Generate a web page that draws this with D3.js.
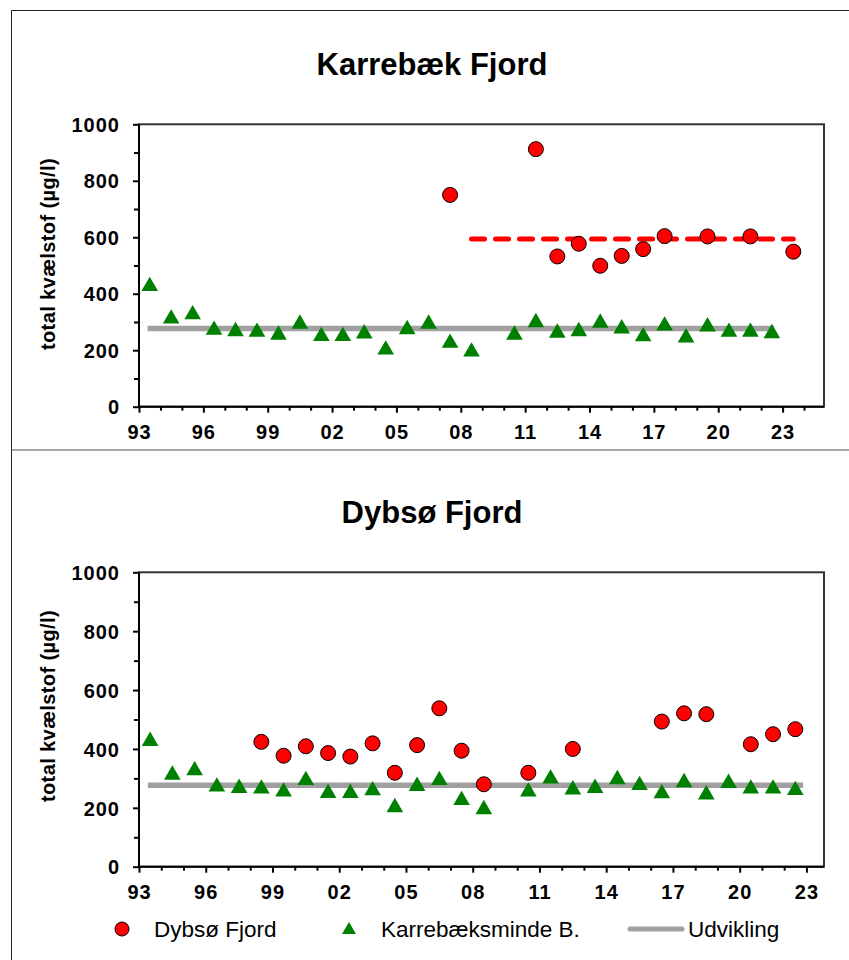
<!DOCTYPE html>
<html>
<head>
<meta charset="utf-8">
<script src="https://cdn.jsdelivr.net/npm/d3@7"></script>
<style>
  body { margin: 0; background: #fff; }
  svg { font-family: "Liberation Sans", Arial, sans-serif; }
</style>
</head>
<body>
<svg width="849" height="960"></svg>
<script>
// Karrebæksminde Bugt (green triangles), same series in both panels
var kbYears = [1993, 1994, 1995, 1996, 1997, 1998, 1999, 2000, 2001, 2002, 2003, 2004, 2005, 2006, 2007, 2008,
               2010, 2011, 2012, 2013, 2014, 2015, 2016, 2017, 2018, 2019, 2020, 2021, 2022];
var kbValues = [430, 315, 330, 275, 270, 268, 258, 297, 253, 253, 262, 205, 277, 297, 229, 198,
                258, 302, 265, 270, 300, 280, 252, 290, 248, 287, 268, 268, 263];

// Karrebæk Fjord (red circles, top panel)
var karYears = [2007, 2011, 2012, 2013, 2014, 2015, 2016, 2017, 2019, 2021, 2023];
var karValues = [750, 912, 532, 577, 499, 534, 558, 604, 603, 603, 549];

// Dybsø Fjord (red circles, bottom panel)
var dybYears = [1998, 1999, 2000, 2001, 2002, 2003, 2004, 2005, 2006, 2007, 2008, 2010, 2012, 2016, 2017, 2018, 2020, 2021, 2022];
var dybValues = [424, 377, 409, 386, 374, 419, 319, 413, 538, 394, 280, 319, 400, 493, 521, 518, 416, 450, 467];

// trend lines ("Udvikling")
var kbTrend = 277;
var kbTrendYears = [[1993.4, 2022.6], [1993.4, 2022.85]];
var karTrend = 594;
var karTrendYears = [2008.5, 2023.5];

var titles = ["Karrebæk Fjord", "Dybsø Fjord"];
var yLabel = "total kvælstof (µg/l)";
var legendLabels = ["Dybsø Fjord", "Karrebæksminde B.", "Udvikling"];

var svg = d3.select("svg");

// frame lines
svg.append("line").attr("x1", 11.5).attr("x2", 849).attr("y1", 10.5).attr("y2", 10.5)
    .attr("stroke", "#222").attr("stroke-width", 1);
svg.append("line").attr("x1", 11.5).attr("x2", 11.5).attr("y1", 10.5).attr("y2", 960)
    .attr("stroke", "#222").attr("stroke-width", 1);
svg.append("line").attr("x1", 11.5).attr("x2", 849).attr("y1", 450).attr("y2", 450)
    .attr("stroke", "#888").attr("stroke-width", 1.5);

var tri = d3.symbol().type(d3.symbolTriangle).size(120);

function toPts(years, values) {
    return years.map(function(y, i) { return { year: y, value: values[i] }; });
}

function panel(opts) {
    var x = d3.scaleLinear().domain([1993, opts.xEnd]).range([139, 824]);
    var y = d3.scaleLinear().domain([0, 1000]).range([opts.bottom, opts.top]);
    var g = svg.append("g");

    // title
    g.append("text")
        .attr("x", 432).attr("y", opts.top - 49)
        .attr("text-anchor", "middle")
        .attr("font-size", 31).attr("font-weight", "bold")
        .text(opts.title);

    // plot border (top/right)
    g.append("rect")
        .attr("x", 139).attr("y", opts.top)
        .attr("width", 824 - 139).attr("height", opts.bottom - opts.top)
        .attr("fill", "none").attr("stroke", "#333").attr("stroke-width", 2);

    // y axis: minor + major
    var yMinor = d3.axisLeft(y).tickValues(d3.range(100, 1000, 200)).tickSize(5).tickFormat("");
    var yMajor = d3.axisLeft(y).tickValues(d3.range(0, 1001, 200)).tickSize(6).tickPadding(13)
        .tickFormat(d3.format("d"));
    var gy1 = g.append("g").attr("transform", "translate(139,0)").call(yMinor);
    var gy2 = g.append("g").attr("transform", "translate(139,0)").call(yMajor);

    // x axis
    var yrs = d3.range(1993, Math.floor(opts.xEnd) + 1);
    var xMinor = d3.axisBottom(x).tickValues(yrs.filter(function(d) { return (d - 1993) % 3 != 0; }))
        .tickSize(4).tickFormat("");
    var xMajor = d3.axisBottom(x).tickValues(yrs.filter(function(d) { return (d - 1993) % 3 == 0; }))
        .tickSize(6).tickPadding(12)
        .tickFormat(function(d) { return d3.format("02d")(d % 100); });
    var gx1 = g.append("g").attr("transform", "translate(0," + opts.bottom + ")").call(xMinor);
    var gx2 = g.append("g").attr("transform", "translate(0," + opts.bottom + ")").call(xMajor);

    [gy1, gy2, gx1, gx2].forEach(function(a) {
        a.select(".domain").remove();
        a.selectAll(".tick line").attr("stroke", "#000").attr("stroke-width", 2);
        a.selectAll(".tick text").attr("font-size", 20).attr("font-weight", "bold")
            .attr("fill", "#000").attr("font-family", "Liberation Sans, Arial, sans-serif")
            .attr("letter-spacing", 1);
    });
    gx2.selectAll(".tick text").attr("dy", "0.71em");
    gy2.selectAll(".tick text").attr("dy", "0.36em");

    // axis lines
    g.append("line").attr("x1", 139).attr("x2", 139).attr("y1", opts.top).attr("y2", opts.bottom + 1)
        .attr("stroke", "#000").attr("stroke-width", 2);
    g.append("line").attr("x1", 138).attr("x2", 824).attr("y1", opts.bottom).attr("y2", opts.bottom)
        .attr("stroke", "#000").attr("stroke-width", 2);

    // y label
    g.append("text")
        .attr("transform", "translate(55," + opts.labelY + ") rotate(-90)")
        .attr("text-anchor", "middle")
        .attr("font-size", 20).attr("font-weight", "bold")
        .attr("letter-spacing", 0.4)
        .text(yLabel);

    // gray trend
    g.append("line")
        .attr("x1", x(opts.grayYears[0])).attr("x2", x(opts.grayYears[1]))
        .attr("y1", y(kbTrend)).attr("y2", y(kbTrend))
        .attr("stroke", "#a0a0a0").attr("stroke-width", 5.5);

    // red dashed trend
    if (opts.redTrend) {
        g.append("line")
            .attr("x1", x(opts.redTrend[0])).attr("x2", x(opts.redTrend[1]))
            .attr("y1", y(opts.redTrend[2])).attr("y2", y(opts.redTrend[2]))
            .attr("stroke", "#ff0000").attr("stroke-width", 5)
            .attr("stroke-linecap", "round")
            .attr("stroke-dasharray", "13,11");
    }

    // triangles
    g.selectAll(".tri")
        .data(toPts(kbYears, kbValues))
        .enter()
        .append("path")
        .attr("class", "tri")
        .attr("d", tri)
        .attr("transform", function(d) { return "translate(" + x(d.year + 0.5) + "," + (y(d.value) + 1) + ")"; })
        .attr("fill", "#008000");

    // circles
    g.selectAll(".dot")
        .data(toPts(opts.redYears, opts.redValues))
        .enter()
        .append("circle")
        .attr("class", "dot")
        .attr("cx", function(d) { return x(d.year + 0.5); })
        .attr("cy", function(d) { return y(d.value); })
        .attr("r", 7.5)
        .attr("fill", "#ff0000")
        .attr("stroke", "#000").attr("stroke-width", 1);
}

panel({ title: titles[0], top: 124.3, bottom: 406.7, xEnd: 2024.93, labelY: 254,
        grayYears: kbTrendYears[0],
        redTrend: [karTrendYears[0], karTrendYears[1], karTrend],
        redYears: karYears, redValues: karValues });

panel({ title: titles[1], top: 572.3, bottom: 866.7, xEnd: 2023.79, labelY: 706,
        grayYears: kbTrendYears[1],
        redTrend: null,
        redYears: dybYears, redValues: dybValues });

// legend
var lg = svg.append("g").attr("font-size", 22.5);
lg.append("circle").attr("cx", 122).attr("cy", 929).attr("r", 7)
    .attr("fill", "#ff0000").attr("stroke", "#000").attr("stroke-width", 1);
lg.append("text").attr("x", 154).attr("y", 937).text(legendLabels[0]);
lg.append("path").attr("d", d3.symbol().type(d3.symbolTriangle).size(85))
    .attr("transform", "translate(349,930)").attr("fill", "#008000");
lg.append("text").attr("x", 381).attr("y", 937).text(legendLabels[1]);
lg.append("line").attr("x1", 630).attr("x2", 682).attr("y1", 929).attr("y2", 929)
    .attr("stroke", "#a0a0a0").attr("stroke-width", 5).attr("stroke-linecap", "round");
lg.append("text").attr("x", 688).attr("y", 937).text(legendLabels[2]);
</script>
</body>
</html>
